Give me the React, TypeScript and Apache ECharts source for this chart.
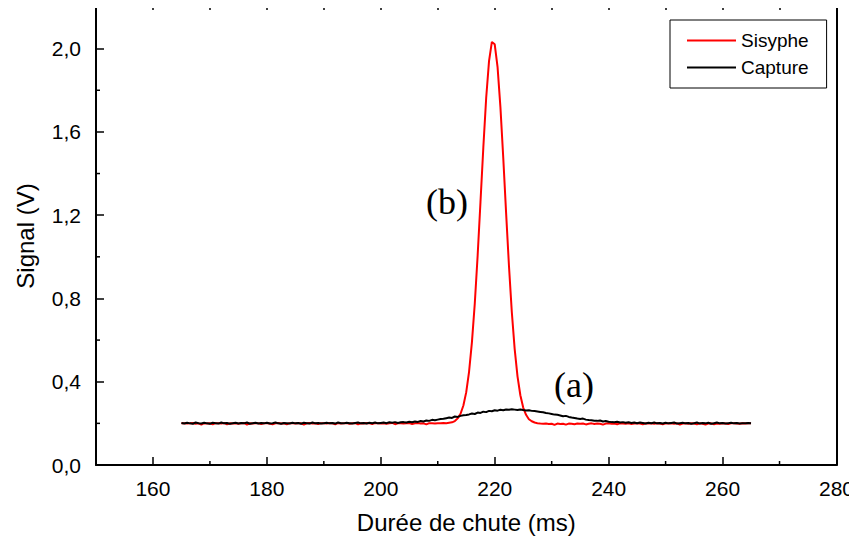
import React, { useEffect, useRef } from "react";
import * as echarts from "echarts";

// Sampling grid of the traces (ms)
const TIME_START = 165;
const TIME_STEP = 0.5;

// Sisyphe signal (V), one value every 0.5 ms from 165 to 265 ms
const sisypheSignal = [
  0.200, 0.201, 0.199, 0.200, 0.202, 0.198, 0.200, 0.194, 0.201, 0.199,
  0.200, 0.196, 0.201, 0.200, 0.199, 0.202, 0.195, 0.200, 0.199, 0.201,
  0.198, 0.200, 0.202, 0.194, 0.200, 0.199, 0.201, 0.200, 0.197, 0.200,
  0.201, 0.199, 0.195, 0.200, 0.202, 0.199, 0.200, 0.196, 0.201, 0.200,
  0.199, 0.201, 0.200, 0.194, 0.200, 0.202, 0.199, 0.200, 0.197, 0.201,
  0.200, 0.199, 0.202, 0.200, 0.196, 0.201, 0.199, 0.200, 0.202, 0.198,
  0.200, 0.201, 0.195, 0.200, 0.199, 0.202, 0.200, 0.197, 0.201, 0.200,
  0.199, 0.201, 0.198, 0.200, 0.202, 0.196, 0.200, 0.201, 0.199, 0.200,
  0.201, 0.197, 0.200, 0.202, 0.199, 0.200, 0.195, 0.201, 0.200, 0.199,
  0.201, 0.200, 0.202, 0.201, 0.203, 0.205,
  0.211, 0.224, 0.246, 0.286, 0.350, 0.449, 0.590, 0.776, 1.005, 1.263,
  1.525, 1.763, 1.940, 2.032, 2.021, 1.911, 1.719, 1.475, 1.210, 0.957,
  0.735, 0.558, 0.426, 0.335, 0.276, 0.241, 0.220, 0.210, 0.204,
  0.201, 0.199, 0.198, 0.199, 0.197,
  0.198, 0.193, 0.199, 0.197, 0.198, 0.194, 0.199, 0.198, 0.196, 0.199,
  0.198, 0.199, 0.195, 0.198, 0.200, 0.197, 0.199, 0.198, 0.194, 0.199,
  0.200, 0.198, 0.199, 0.196, 0.200, 0.199, 0.198, 0.200, 0.197, 0.199,
  0.200, 0.199, 0.195, 0.200, 0.199, 0.201, 0.198, 0.200, 0.199, 0.196,
  0.200, 0.199, 0.201, 0.198, 0.200, 0.194, 0.199, 0.200, 0.198, 0.201,
  0.199, 0.195, 0.200, 0.198, 0.194, 0.199, 0.200, 0.196, 0.199, 0.198,
  0.200, 0.199, 0.197, 0.200, 0.201, 0.199, 0.198, 0.200, 0.199, 0.200,
  0.200,
];

// Capture signal (V), one value every 0.5 ms from 165 to 265 ms
const captureSignal = [
  0.202, 0.199, 0.203, 0.200, 0.198, 0.204, 0.201, 0.199, 0.203, 0.200,
  0.198, 0.203, 0.201, 0.199, 0.204, 0.200, 0.202, 0.198, 0.201, 0.203,
  0.199, 0.202, 0.200, 0.204, 0.198, 0.201, 0.203, 0.199, 0.202, 0.200,
  0.203, 0.199, 0.201, 0.204, 0.200, 0.198, 0.202, 0.201, 0.199, 0.203,
  0.200, 0.202, 0.198, 0.203, 0.201, 0.199, 0.204, 0.200, 0.202, 0.199,
  0.201, 0.203, 0.200, 0.202, 0.199, 0.204, 0.201, 0.200, 0.203, 0.201,
  0.199, 0.202, 0.204, 0.200, 0.202, 0.199, 0.203, 0.201, 0.204, 0.200,
  0.202, 0.204, 0.201, 0.205, 0.203, 0.206, 0.202, 0.205, 0.206, 0.204,
  0.208, 0.205, 0.209, 0.207, 0.211, 0.209, 0.214, 0.212, 0.217, 0.215,
  0.218, 0.221, 0.222, 0.225, 0.228, 0.226, 0.233, 0.231, 0.236, 0.239,
  0.240, 0.243, 0.247, 0.245, 0.252, 0.250, 0.256, 0.254, 0.260, 0.258,
  0.263, 0.261, 0.265, 0.263, 0.267, 0.265, 0.268, 0.266, 0.264, 0.267,
  0.264, 0.262, 0.263, 0.260, 0.259, 0.257, 0.255, 0.253, 0.250, 0.248,
  0.245, 0.242, 0.241, 0.238, 0.234, 0.236, 0.231, 0.228, 0.226, 0.223,
  0.221, 0.223, 0.218, 0.216, 0.215, 0.213, 0.212, 0.214, 0.209, 0.211,
  0.208, 0.206, 0.205, 0.208, 0.204, 0.206, 0.203, 0.205, 0.202, 0.204,
  0.201, 0.204, 0.202, 0.199, 0.203, 0.201, 0.204, 0.200, 0.202, 0.199,
  0.203, 0.200, 0.202, 0.204, 0.199, 0.201, 0.203, 0.200, 0.202, 0.198,
  0.201, 0.204, 0.199, 0.202, 0.200, 0.203, 0.198, 0.201, 0.204, 0.200,
  0.202, 0.199, 0.201, 0.203, 0.200, 0.202, 0.199, 0.201, 0.200, 0.202,
  0.201,
];

const X_MAJOR_TICKS = [160, 180, 200, 220, 240, 260, 280];
const X_MINOR_TICKS = [150, 170, 190, 210, 230, 250, 270];
const X_TOP_TICKS = [160, 170, 180, 190, 200, 210, 220, 230, 240, 250, 260, 270];
const Y_MAJOR_TICKS = [0, 0.4, 0.8, 1.2, 1.6, 2.0];
const Y_MINOR_TICKS = [0.2, 0.6, 1.0, 1.4, 1.8];

const SERIES_NAMES = ["Sisyphe", "Capture"];

const FONT = "'Liberation Sans', Arial, sans-serif";
const SERIF = "'Liberation Serif', 'Times New Roman', serif";

function toPairs(values: number[]) {
  return values.map((v, i) => [TIME_START + i * TIME_STEP, v]);
}

// Minor tick marks drawn through the axes' own scales
function tickSeries(values: number[], dir: "x" | "y", len: number) {
  return {
    type: "custom",
    xAxisIndex: 0,
    yAxisIndex: 0,
    silent: true,
    clip: false,
    z: 10,
    data: values.map((v) => (dir === "x" ? [v, 0] : [150, v])),
    renderItem: (_params: any, api: any) => {
      const p = api.coord([api.value(0), api.value(1)]);
      const shape =
        dir === "x"
          ? { x1: p[0], y1: p[1], x2: p[0], y2: p[1] - len }
          : { x1: p[0], y1: p[1], x2: p[0] + len, y2: p[1] };
      return { type: "line", shape, style: { stroke: "#000", lineWidth: 1.5 } };
    },
  };
}

export default function App() {
  const ref = useRef<HTMLDivElement>(null);

  useEffect(() => {
    if (!ref.current) return;
    const chart = echarts.init(ref.current, undefined, { renderer: "svg" });
    const axisLine = { show: true, onZero: false, lineStyle: { color: "#000", width: 2 } };
    const tickStyle = { color: "#000", width: 1.5 };
    chart.setOption({
      animation: false,
      backgroundColor: "#fff",
      grid: { left: 96, right: 19, top: 7, bottom: 82 },
      legend: {
        data: SERIES_NAMES.map((n) => ({ name: n, icon: "rect" })),
        orient: "vertical",
        left: 670,
        top: 20,
        borderColor: "#000",
        borderWidth: 1,
        padding: [11, 18, 11, 17],
        itemWidth: 49,
        itemHeight: 2,
        itemGap: 8,
        textStyle: { fontFamily: FONT, fontSize: 19, color: "#000", lineHeight: 19 },
        backgroundColor: "#fff",
      },
      xAxis: [
        {
          type: "value",
          min: 150,
          max: 280,
          position: "bottom",
          axisLine,
          axisTick: { show: true, inside: true, length: 8, customValues: X_MAJOR_TICKS, lineStyle: tickStyle },
          splitLine: { show: false },
          axisLabel: { customValues: X_MAJOR_TICKS, fontFamily: FONT, fontSize: 21, color: "#000", margin: 13 },
          name: "Durée de chute (ms)",
          nameLocation: "middle",
          nameGap: 45,
          nameTextStyle: { fontFamily: FONT, fontSize: 24, color: "#000" },
        },
        {
          type: "value",
          min: 150,
          max: 280,
          position: "top",
          axisLine,
          axisTick: { show: true, inside: true, length: 3, customValues: X_TOP_TICKS, lineStyle: tickStyle },
          axisLabel: { show: false },
          splitLine: { show: false },
        },
      ],
      yAxis: [
        {
          type: "value",
          min: 0,
          max: 2.2,
          position: "left",
          axisLine,
          axisTick: { show: true, inside: true, length: 8, customValues: Y_MAJOR_TICKS, lineStyle: tickStyle },
          splitLine: { show: false },
          axisLabel: {
            customValues: Y_MAJOR_TICKS,
            fontFamily: FONT,
            fontSize: 21,
            color: "#000",
            margin: 15,
            formatter: (v: number) => v.toFixed(1).replace(".", ","),
          },
          name: "Signal (V)",
          nameLocation: "middle",
          nameGap: 59,
          nameTextStyle: { fontFamily: FONT, fontSize: 24, color: "#000" },
        },
        {
          type: "value",
          min: 0,
          max: 2.2,
          position: "right",
          axisLine,
          axisTick: { show: false },
          axisLabel: { show: false },
          splitLine: { show: false },
        },
      ],
      series: [
        {
          name: SERIES_NAMES[0],
          type: "line",
          xAxisIndex: 0,
          yAxisIndex: 0,
          data: toPairs(sisypheSignal),
          symbol: "none",
          lineStyle: { color: "#ff0000", width: 2 },
          itemStyle: { color: "#ff0000" },
        },
        {
          name: SERIES_NAMES[1],
          type: "line",
          xAxisIndex: 0,
          yAxisIndex: 0,
          data: toPairs(captureSignal),
          symbol: "none",
          lineStyle: { color: "#000000", width: 2 },
          itemStyle: { color: "#000000" },
        },
        tickSeries(X_MINOR_TICKS, "x", 4),
        tickSeries(Y_MINOR_TICKS, "y", 4),
      ],
      graphic: [
        {
          type: "text",
          x: 447,
          y: 202,
          style: { text: "(b)", font: `36px ${SERIF}`, fill: "#000", align: "center", verticalAlign: "middle" },
        },
        {
          type: "text",
          x: 574,
          y: 385,
          style: { text: "(a)", font: `36px ${SERIF}`, fill: "#000", align: "center", verticalAlign: "middle" },
        },
      ],
    });
    return () => chart.dispose();
  }, []);

  return <div ref={ref} style={{ width: 857, height: 547, margin: -8 }} />;
}
